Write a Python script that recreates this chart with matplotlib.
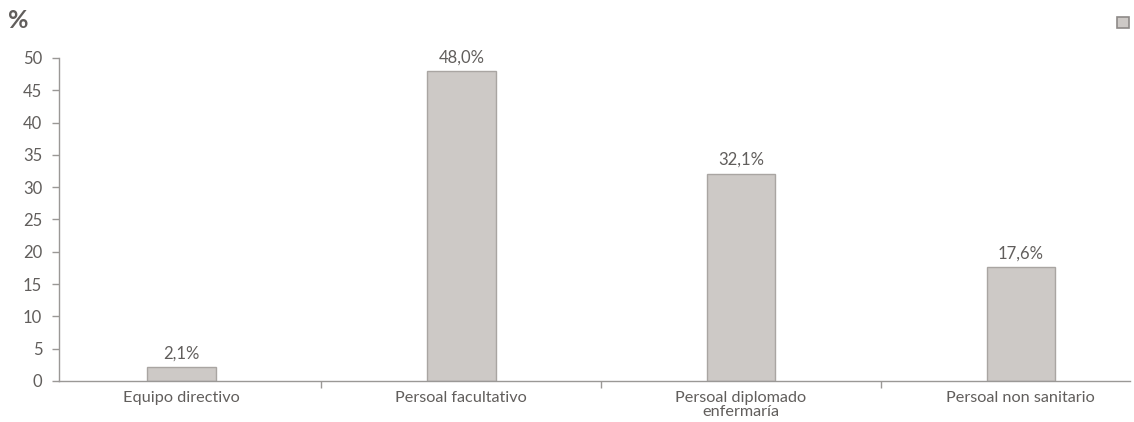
import matplotlib.pyplot as plt
from matplotlib.patches import Patch

"""DATA"""
categories = ["Equipo directivo", "Persoal facultativo", "Persoal diplomado\nenfermaría", "Persoal non sanitario"]
values = [2.1, 48.0, 32.1, 17.6]
value_labels = ["2,1%", "48,0%", "32,1%", "17,6%"]
yticks = [0, 5, 10, 15, 20, 25, 30, 35, 40, 45, 50]

"""COLORS AND STYLE"""
_bar = "#cdc9c6"
_edge = "#a9a5a2"
_txt = "#615e5c"
_axis = "#9a9896"
plt.rcParams['font.family'] = ['Lato', 'DejaVu Sans']

fig = plt.figure(figsize=(11.34, 4.22), dpi=100)
ax = fig.add_axes([0.052, 0.0972, 0.9444, 0.7654])

x = list(range(len(categories)))
bars = ax.bar(x, values, width=0.245, color=_bar, edgecolor=_edge, linewidth=1)

for xi, v, lab in zip(x, values, value_labels):
    ax.annotate(lab, xy=(xi, v), xytext=(0, 4), textcoords="offset points",
                ha="center", va="bottom", fontsize=12, color=_txt)

ax.set_xlim(-0.438, 3.39)
ax.set_ylim(0, 50)
ax.set_yticks(yticks)
ax.set_yticklabels([str(t) for t in yticks], fontsize=12, color=_txt)
ax.set_xticks(x)
ax.set_xticklabels(categories, fontsize=11.7, color=_txt, linespacing=1.05)
ax.set_xticks([0.5, 1.5, 2.5], minor=True)
ax.tick_params(axis="x", which="major", length=0, pad=7)
ax.tick_params(axis="x", which="minor", length=5, color=_axis, width=1)
ax.tick_params(axis="y", length=5, color=_axis, width=1, pad=7)

for s in ["top", "right"]:
    ax.spines[s].set_visible(False)
for s in ["left", "bottom"]:
    ax.spines[s].set_color(_axis)
    ax.spines[s].set_linewidth(1)

fig.text(0.007, 0.952, "%", fontsize=18, fontweight="bold", color=_txt, ha="left", va="center")

leg = fig.legend(handles=[Patch(facecolor=_bar, edgecolor="#8e8a88", linewidth=1.2)], labels=[""],
                 loc="center", bbox_to_anchor=(0.9905, 0.945), frameon=False,
                 handlelength=0.9, handleheight=0.9, handletextpad=0, borderpad=0)

fig.savefig("out.png", dpi=100)
